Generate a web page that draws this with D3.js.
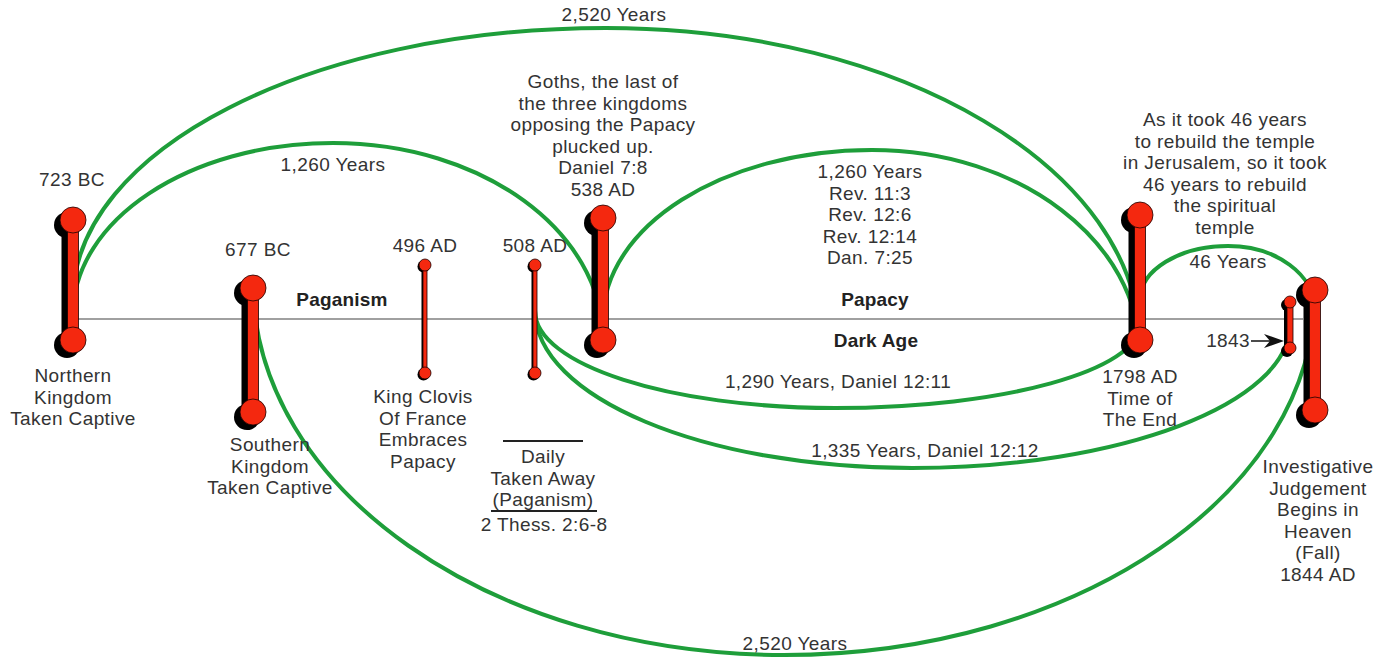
<!DOCTYPE html>
<html>
<head>
<meta charset="utf-8">
<script src="https://cdn.jsdelivr.net/npm/d3@7"></script>
<style>
  body { margin: 0; background: #fff; }
  svg text { font-family: "Liberation Sans", Arial, Helvetica, sans-serif; font-size: 19px; letter-spacing: 0.4px; fill: #333; }
  svg text.bold { font-weight: bold; fill: #222; letter-spacing: 0.2px; }
</style>
</head>
<body>
<svg width="1393" height="659"></svg>
<script>
// events on the time line
const eventYears  = [-723, -677, 496, 508, 538, 1798, 1843, 1844];
const eventKinds  = ["major", "major", "minor", "minor", "major", "major", "mid", "major"];

// prophetic periods (arcs)
const spanFrom   = [-723, -723, 538, 1798, 508, 508, -677];
const spanTo     = [1798, 538, 1798, 1844, 1798, 1843, 1844];
const spanLabels = ["2,520 Years", "1,260 Years", "", "46 Years",
                    "1,290 Years, Daniel 12:11", "1,335 Years, Daniel 12:12", "2,520 Years"];

// text blocks
const notes = [
  ["723 BC"],
  ["Northern", "Kingdom", "Taken Captive"],
  ["677 BC"],
  ["Southern", "Kingdom", "Taken Captive"],
  ["496 AD"],
  ["King Clovis", "Of France", "Embraces", "Papacy"],
  ["508 AD"],
  ["Daily", "Taken Away", "(Paganism)"],
  ["2 Thess. 2:6-8"],
  ["Goths, the last of", "the three kingdoms", "opposing the Papacy", "plucked up.", "Daniel 7:8"],
  ["538 AD"],
  ["1,260 Years", "Rev. 11:3", "Rev. 12:6", "Rev. 12:14", "Dan. 7:25"],
  ["1798 AD", "Time of", "The End"],
  ["As it took 46 years", "to rebuild the temple", "in Jerusalem, so it took", "46 years to rebuild", "the spiritual", "temple"],
  ["Investigative", "Judgement", "Begins in", "Heaven", "(Fall)", "1844 AD"]
];
const eraLabels = ["Paganism", "Papacy", "Dark Age"];

// ---- layout ----
const baseY = 319;
const lineH = 21.5;
const x = d3.scaleLinear()
    .domain(eventYears)
    .range([73, 253, 425, 535, 603, 1140, 1290, 1315]);

// bar extents relative to base line [top, bottom]
const barExtent = [[-99, 21], [-31, 93], [-54, 54], [-54, 54], [-101, 21], [-104, 21], [-17, 29], [-29, 91]];
const kindStyle = {
  major: { w: 11, r: 13, dx: -6, dy: 5 },
  minor: { w: 4, r: 6, dx: -1.5, dy: 1.5 },
  mid:   { w: 6, r: 6, dx: -3, dy: 3 }
};
// arc geometry: [start y, peak x, peak y, end y]
const arcGeom = [
  [300, 606, 28, 345],
  [315, 333, 143, 340],
  [320, 872, 150, 355],
  [300, 1228, 246, 310],
  [311, 835, 408, 324],
  [310, 912, 468, 324],
  [282, 784, 655, 292]
];
const arcLabelPos = [[614, 21], [333, 171], null, [1228, 268], [838, 388], [925, 457], [795, 650]];
const notePos = [
  [72, 186], [73, 382], [258, 256], [270, 451], [425, 252], [423, 403], [535, 252],
  [543, 463], [544, 531], [603, 88], [603, 196], [870, 178], [1140, 383], [1225, 126], [1318, 473]
];
const eraPos = [[342, 306], [875, 306], [876, 347]];

const svg = d3.select("svg");

function arcPath(x1, y1, xp, yp, x2, y2) {
  const k = 0.5523, p = d3.path();
  p.moveTo(x1, y1);
  p.bezierCurveTo(x1, y1 + k * (yp - y1), xp - k * (xp - x1), yp, xp, yp);
  p.bezierCurveTo(xp + k * (x2 - xp), yp, x2, y2 + k * (yp - y2), x2, y2);
  return p.toString();
}

// base line
svg.append("line")
    .attr("x1", x(-723)).attr("x2", x(1844) - 12)
    .attr("y1", baseY).attr("y2", baseY)
    .attr("stroke", "#808080").attr("stroke-width", 1.6);

// arcs
svg.append("g").selectAll("path")
  .data(spanFrom.map((f, i) => ({ from: f, to: spanTo[i], g: arcGeom[i] })))
  .join("path")
    .attr("d", d => arcPath(x(d.from), d.g[0], d.g[1], d.g[2], x(d.to), d.g[3]))
    .attr("fill", "none")
    .attr("stroke", "#1e9e3a")
    .attr("stroke-width", 4);

// dumbbell bars
function dumbbell(g, cx, top, bottom, s, fill, stroke) {
  g.append("rect")
    .attr("x", cx - s.w / 2).attr("y", top)
    .attr("width", s.w).attr("height", bottom - top)
    .attr("fill", fill).attr("stroke", stroke).attr("stroke-width", stroke ? 0.8 : 0);
  [top, bottom].forEach(cy => {
    g.append("circle").attr("cx", cx).attr("cy", cy).attr("r", s.r)
      .attr("fill", fill).attr("stroke", stroke).attr("stroke-width", stroke ? 0.8 : 0);
  });
}
eventYears.forEach((yr, i) => {
  const s = kindStyle[eventKinds[i]];
  const top = baseY + barExtent[i][0], bottom = baseY + barExtent[i][1];
  const g = svg.append("g");
  dumbbell(g.append("g").attr("transform", `translate(${s.dx},${s.dy})`), x(yr), top, bottom, s, "#000", null);
  dumbbell(g.append("g"), x(yr), top, bottom, s, "#f4280f", "#1a0000");
});

// arc labels
spanLabels.forEach((t, i) => {
  if (!t) return;
  svg.append("text").attr("x", arcLabelPos[i][0]).attr("y", arcLabelPos[i][1])
    .attr("text-anchor", "middle").text(t);
});

// note blocks
notes.forEach((lines, i) => {
  const txt = svg.append("text").attr("text-anchor", "middle");
  lines.forEach((l, j) => {
    txt.append("tspan").attr("x", notePos[i][0]).attr("y", notePos[i][1] + j * lineH).text(l);
  });
});

// era labels
eraLabels.forEach((t, i) => {
  svg.append("text").attr("class", "bold").attr("x", eraPos[i][0]).attr("y", eraPos[i][1])
    .attr("text-anchor", "middle").text(t);
});

// rules around "Daily Taken Away"
svg.append("line").attr("x1", 503).attr("x2", 583).attr("y1", 441).attr("y2", 441)
  .attr("stroke", "#222").attr("stroke-width", 2);
svg.append("line").attr("x1", 491).attr("x2", 597).attr("y1", 511).attr("y2", 511)
  .attr("stroke", "#222").attr("stroke-width", 2);

// 1843 pointer
svg.append("text").attr("x", 1250).attr("y", 347).attr("text-anchor", "end").text("1843");
svg.append("line").attr("x1", 1251).attr("x2", 1272).attr("y1", 341).attr("y2", 341)
  .attr("stroke", "#111").attr("stroke-width", 1.5);
svg.append("path").attr("d", "M1284,341 L1264,334 L1270,341 L1264,348 Z").attr("fill", "#111");
</script>
</body>
</html>
